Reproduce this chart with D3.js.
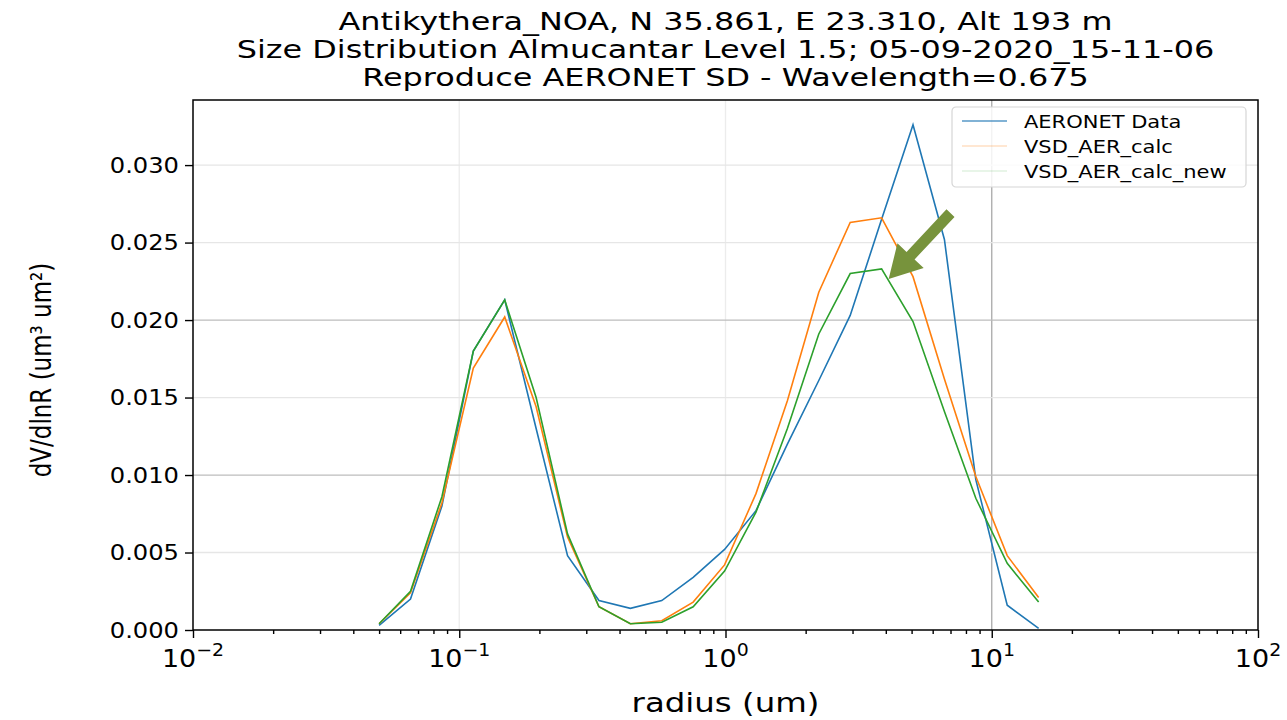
<!DOCTYPE html>
<html>
<head>
<meta charset="utf-8">
<script src="https://cdn.jsdelivr.net/npm/d3@7/dist/d3.min.js"></script>
<style>
  body { margin: 0; background: #fff; }
  svg { display: block; font-family: "DejaVu Sans", sans-serif; }
</style>
</head>
<body>
<div id="chart"></div>
<script>
// AERONET radius bins (um)
const radius = [0.05, 0.065604, 0.086077, 0.112939, 0.148184, 0.194429, 0.255105, 0.334716,
  0.439173, 0.576227, 0.756052, 0.991996, 1.301571, 1.707757, 2.240702, 2.939966,
  3.857452, 5.06126, 6.640745, 8.713145, 11.432287, 15.0];

const aeronetData = [0.0003, 0.0020, 0.0080, 0.0180, 0.0213, 0.0130, 0.0048, 0.0019,
  0.0014, 0.0019, 0.0034, 0.0052, 0.0077, 0.0120, 0.0161, 0.0203,
  0.0265, 0.0326, 0.0252, 0.0097, 0.0016, 0.0001];

const vsdAerCalc = [0.0004, 0.0024, 0.0082, 0.0169, 0.0202, 0.0144, 0.0060, 0.0015,
  0.0004, 0.0006, 0.0018, 0.0042, 0.0088, 0.0148, 0.0218, 0.0263,
  0.0266, 0.0228, 0.0162, 0.0099, 0.0048, 0.0021];

const vsdAerCalcNew = [0.0004, 0.0025, 0.0086, 0.0180, 0.0213, 0.0150, 0.0062, 0.0015,
  0.0004, 0.0005, 0.0015, 0.0038, 0.0076, 0.0130, 0.0191, 0.0230,
  0.0233, 0.0199, 0.0141, 0.0085, 0.0043, 0.0018];

const seriesNames = ['AERONET Data', 'VSD_AER_calc', 'VSD_AER_calc_new'];
const titleLines = ['Antikythera_NOA, N 35.861, E 23.310, Alt 193 m',
  'Size Distribution Almucantar Level 1.5; 05-09-2020_15-11-06',
  'Reproduce AERONET SD - Wavelength=0.675'];
const xMajorExp = [-2, -1, 0, 1, 2];
const yTicks = [0, 0.005, 0.010, 0.015, 0.020, 0.025, 0.030];
const yMax = 0.0342;
// arrow annotation (data coords): tail -> tip
const arrowTail = [7.0, 0.0269];
const arrowTip = [4.1, 0.02265];

const width = 1287, height = 720;
const margin = { top: 100, right: 29, bottom: 90, left: 193 };
const SX = 1.2; // picture is stretched horizontally

const svg = d3.select('#chart').append('svg')
  .attr('width', width).attr('height', height);

const x = d3.scaleLog().domain([1e-2, 1e2]).range([margin.left, width - margin.right]);
const y = d3.scaleLinear().domain([0, yMax]).range([height - margin.bottom, margin.top]);

const colors = ['#1f77b4', '#ff7f0e', '#2ca02c'];

function stretchText(g, px, py, str, size, sx, anchor) {
  return g.append('text')
    .attr('transform', `translate(${px},${py}) scale(${sx},1)`)
    .attr('font-size', size)
    .attr('text-anchor', anchor || 'middle')
    .attr('fill', '#000')
    .text(str);
}

// grid
const majors = xMajorExp.map(e => Math.pow(10, e));
const grid = svg.append('g');
grid.selectAll('.vg').data(majors.slice(1, -1)).enter().append('line')
  .attr('x1', d => x(d)).attr('x2', d => x(d))
  .attr('y1', y(yMax)).attr('y2', y(0))
  .attr('stroke', d => d === 10 ? '#a9a9a9' : '#ececec')
  .attr('stroke-width', 1.3);
grid.selectAll('.hg').data(yTicks.slice(1)).enter().append('line')
  .attr('x1', x(1e-2)).attr('x2', x(1e2))
  .attr('y1', d => y(d)).attr('y2', d => y(d))
  .attr('stroke', d => (Math.abs(d - 0.01) < 1e-9 || Math.abs(d - 0.02) < 1e-9) ? '#bdbdbd' : '#e6e6e6')
  .attr('stroke-width', 1.3);

// axes ticks
const minors = [];
xMajorExp.slice(0, -1).forEach(e => {
  for (let k = 2; k <= 9; k++) minors.push(k * Math.pow(10, e));
});
const xAxisG = svg.append('g').attr('transform', `translate(0,${y(0)})`)
  .call(d3.axisBottom(x).tickValues(majors).tickSize(8).tickFormat(''));
const xMinorG = svg.append('g').attr('transform', `translate(0,${y(0)})`)
  .call(d3.axisBottom(x).tickValues(minors).tickSize(4).tickFormat(''));
const yAxisG = svg.append('g').attr('transform', `translate(${x(1e-2)},0)`)
  .call(d3.axisLeft(y).tickValues(yTicks).tickSize(8).tickFormat(''));
[xAxisG, xMinorG, yAxisG].forEach(g => {
  g.select('.domain').remove();
  g.selectAll('line').attr('stroke', '#000').attr('stroke-width', 1.4);
});

// x tick labels 10^n
xMajorExp.forEach(e => {
  const t = svg.append('text')
    .attr('transform', `translate(${x(Math.pow(10, e))},667) scale(1.08,1)`)
    .attr('text-anchor', 'middle')
    .attr('font-size', 25);
  t.append('tspan').text('10');
  t.append('tspan').attr('dy', -11).attr('font-size', 17.5).text(e < 0 ? '\u2212' + (-e) : String(e));
});

// y tick labels
yTicks.forEach(v => {
  stretchText(svg, x(1e-2) - 14, y(v) + 7.5, d3.format('.3f')(v), 20.5, 1.18, 'end');
});

// lines
const plot = svg.append('g');
const lineGen = d3.line().x(d => x(d[0])).y(d => y(d[1]));
[aeronetData, vsdAerCalc, vsdAerCalcNew].forEach((vals, i) => {
  plot.append('path')
    .datum(radius.map((r, j) => [r, vals[j]]))
    .attr('d', lineGen)
    .attr('fill', 'none')
    .attr('stroke', colors[i])
    .attr('stroke-width', 1.6);
});

// frame
svg.append('rect')
  .attr('x', x(1e-2)).attr('y', y(yMax))
  .attr('width', x(1e2) - x(1e-2)).attr('height', y(0) - y(yMax))
  .attr('fill', 'none').attr('stroke', '#000').attr('stroke-width', 1.5);

// legend
const lg = svg.append('g').attr('transform', `translate(${x(1e2) - 306},${y(yMax) + 7})`);
lg.append('rect').attr('width', 294).attr('height', 80).attr('rx', 4)
  .attr('fill', '#fff').attr('fill-opacity', 0.85)
  .attr('stroke', '#d6d6d6').attr('stroke-width', 1.2);
const legendAlpha = [0.75, 0.25, 0.15];
seriesNames.forEach((name, i) => {
  const cy = 14 + i * 25;
  lg.append('line').attr('x1', 10).attr('x2', 55).attr('y1', cy).attr('y2', cy)
    .attr('stroke', colors[i]).attr('stroke-opacity', legendAlpha[i]).attr('stroke-width', 1.6);
  stretchText(lg, 72, cy + 7, name, 17.5, 1.2, 'start');
});

// arrow annotation
const p0 = [x(arrowTail[0]), y(arrowTail[1])];
const p1 = [x(arrowTip[0]), y(arrowTip[1])];
const dx = p1[0] - p0[0], dy = p1[1] - p0[1];
const len = Math.hypot(dx, dy);
const ux = dx / len, uy = dy / len, nx = -uy, ny = ux;
const headLen = 32, headW = 18, shaftW = 5.5;
const hb = [p1[0] - ux * headLen, p1[1] - uy * headLen];
const arrowPts = [
  [p0[0] + nx * shaftW, p0[1] + ny * shaftW],
  [hb[0] + nx * shaftW, hb[1] + ny * shaftW],
  [hb[0] + nx * headW, hb[1] + ny * headW],
  p1,
  [hb[0] - nx * headW, hb[1] - ny * headW],
  [hb[0] - nx * shaftW, hb[1] - ny * shaftW],
  [p0[0] - nx * shaftW, p0[1] - ny * shaftW]
];
svg.append('path').attr('d', d3.line()(arrowPts) + 'Z').attr('fill', '#77933c');

// title
const cx = (x(1e-2) + x(1e2)) / 2;
titleLines.forEach((t, i) => {
  stretchText(svg, cx, 30 + i * 28, t, 25.5, 1.25, 'middle');
});

// axis labels
stretchText(svg, cx, 712, 'radius (um)', 27, 1.2, 'middle');
svg.append('text')
  .attr('transform', `translate(51,370) scale(${SX},1) rotate(-90)`)
  .attr('text-anchor', 'middle')
  .attr('font-size', 23)
  .text('dV/dlnR (um\u00b3 um\u00b2)');
</script>
</body>
</html>
